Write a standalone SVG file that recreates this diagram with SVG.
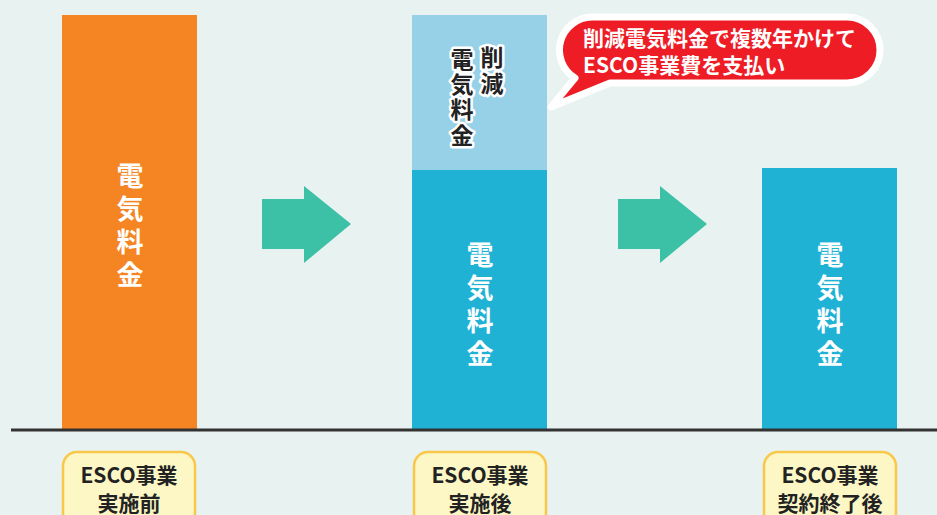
<svg xmlns="http://www.w3.org/2000/svg" width="937" height="515" viewBox="0 0 937 515">
<style>
.jp{font-family:"Noto Sans CJK JP","Noto Sans",sans-serif;font-weight:bold}
.vw{fill:#ffffff;font-size:27px;text-anchor:middle}
.vd{fill:#222222;font-size:23px;text-anchor:middle;stroke:#ffffff;stroke-width:5px;stroke-linejoin:round;paint-order:stroke}
.lbl{fill:#fcf7c5;stroke:#f9c84a;stroke-width:2.5}
.lt{fill:#222222;font-size:21px;text-anchor:middle}
.arr{fill:#3cc0a6}
</style>
<rect width="937" height="515" fill="#e8f2f1"/>
<g id="bar-before">
<rect x="62" y="15" width="135" height="415" fill="#f58523"/>
<text class="jp vw"><tspan x="130" y="186">電</tspan><tspan x="130" y="219">気</tspan><tspan x="130" y="252">料</tspan><tspan x="130" y="285">金</tspan></text>
</g>
<g id="bar-after">
<rect x="412" y="15" width="135" height="155" fill="#97d1e7"/>
<rect x="412" y="170" width="135" height="260" fill="#20b2d5"/>
<text class="jp vd"><tspan x="492" y="66">削</tspan><tspan x="492" y="92">減</tspan></text>
<text class="jp vd"><tspan x="462" y="68">電</tspan><tspan x="462" y="93">気</tspan><tspan x="462" y="118">料</tspan><tspan x="462" y="144">金</tspan></text>
<text class="jp vw"><tspan x="480" y="265">電</tspan><tspan x="480" y="298">気</tspan><tspan x="480" y="331">料</tspan><tspan x="480" y="364">金</tspan></text>
</g>
<g id="bar-end">
<rect x="762" y="168" width="135" height="262" fill="#20b2d5"/>
<text class="jp vw"><tspan x="830" y="265">電</tspan><tspan x="830" y="298">気</tspan><tspan x="830" y="331">料</tspan><tspan x="830" y="364">金</tspan></text>
</g>
<g id="bubble">
<path d="M592,17 H847 A33,33 0 0 1 847,83 H610 L551,107 L575,78 A33,33 0 0 1 592,17 Z" fill="#ee1c25" stroke="#ffffff" stroke-width="7" stroke-linejoin="round"/>
<text class="jp" fill="#ffffff" font-size="21"><tspan x="583" y="46">削減電気料金で複数年かけて</tspan><tspan x="583" y="73">ESCO事業費を支払い</tspan></text>
</g>
<g id="connectors">
<line x1="11" y1="430" x2="937" y2="430" stroke="#333333" stroke-width="3"/>
<polygon class="arr" points="262,199 304,199 304,186 351,224 304,263 304,249 262,249"/>
<polygon class="arr" points="618,199 660,199 660,186 707,224 660,263 660,249 618,249"/>
</g>
<g id="label-before">
<rect class="lbl" x="63" y="452" width="132" height="75" rx="14"/>
<text class="jp lt"><tspan x="129" y="483">ESCO事業</tspan><tspan x="129" y="511">実施前</tspan></text>
</g>
<g id="label-after">
<rect class="lbl" x="414" y="452" width="132" height="75" rx="14"/>
<text class="jp lt"><tspan x="480" y="483">ESCO事業</tspan><tspan x="480" y="511">実施後</tspan></text>
</g>
<g id="label-end">
<rect class="lbl" x="764" y="452" width="132" height="75" rx="14"/>
<text class="jp lt"><tspan x="830" y="483">ESCO事業</tspan><tspan x="830" y="511">契約終了後</tspan></text>
</g>
</svg>
